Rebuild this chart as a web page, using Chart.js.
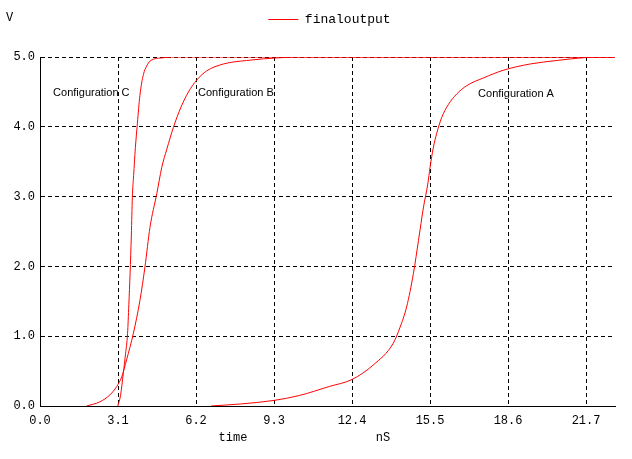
<!DOCTYPE html>
<html>
<head>
<meta charset="utf-8">
<script src="https://cdn.jsdelivr.net/npm/chart.js@4/dist/chart.umd.min.js"></script>
<style>
    html, body { margin: 0; padding: 0; background: #fff; }
    #chart { display: block; }
</style>
</head>
<body>
<canvas id="chart" width="632" height="459"></canvas>
<script>
// Data (time in nS, voltage in V)
const timeC = [3.09, 3.2, 3.31, 3.4, 3.48, 3.53, 3.58, 3.63, 3.67, 3.72, 3.79, 3.87, 3.97, 4.11, 4.24, 4.37, 4.9, 5.5, 22.85];
const voltC = [0, 0.15, 0.47, 0.75, 1.04, 1.45, 1.9, 2.45, 2.99, 3.3, 3.7, 4.05, 4.45, 4.75, 4.87, 4.94, 4.99, 5.0, 5.0];

const timeB = [1.85, 2.38, 2.78, 3.05, 3.25, 3.44, 3.71, 3.97, 4.17, 4.37, 4.64, 4.84, 5.04, 5.3, 5.6, 5.9, 6.23, 6.62, 7.29, 8.21, 9.54, 10.5, 22.85];
const voltB = [0, 0.06, 0.16, 0.28, 0.42, 0.66, 1.04, 1.51, 1.99, 2.56, 3.04, 3.42, 3.68, 3.99, 4.28, 4.5, 4.67, 4.8, 4.9, 4.95, 4.99, 5.0, 5.0];

const timeA = [6.8, 8.0, 9.3, 10.3, 11.5, 12.4, 13.25, 14.04, 14.31, 14.57, 14.84, 15.04, 15.24, 15.41, 15.5, 15.63, 15.76, 15.96, 16.23, 16.56, 16.96, 17.62, 18.41, 19.48, 20.54, 21.6, 22.26, 22.85];
const voltA = [0, 0.03, 0.08, 0.15, 0.28, 0.38, 0.59, 0.9, 1.13, 1.42, 1.9, 2.37, 2.85, 3.18, 3.42, 3.7, 3.9, 4.13, 4.32, 4.47, 4.59, 4.7, 4.81, 4.9, 4.95, 4.99, 5.0, 5.0];

const xTicks = [0, 3.1, 6.2, 9.3, 12.4, 15.5, 18.6, 21.7];
const yTicks = [0, 1, 2, 3, 4, 5];

// Curve annotations (data coordinates of the text's left edge)
const noteText = ['Configuration C', 'Configuration B', 'Configuration A'];
const noteTime = [0.52, 6.28, 17.41];
const noteVolt = [4.49, 4.49, 4.47];

const monoFamily = "'Liberation Mono', 'DejaVu Sans Mono', monospace";
const monoFont = { family: monoFamily, size: 12 };

function toPoints(xs, ys) {
    return xs.map((x, i) => ({ x: x, y: ys[i] }));
}

function series(label, xs, ys) {
    return {
        label: label,
        data: toPoints(xs, ys),
        borderColor: '#ff0000',
        backgroundColor: '#ff0000',
        borderWidth: 1,
        pointRadius: 0,
        cubicInterpolationMode: 'monotone',
        fill: false
    };
}

// Extra texts: axis captions and curve names
const textPlugin = {
    id: 'texts',
    afterDatasetsDraw(chart) {
        const ctx = chart.ctx;
        const x = chart.scales.x;
        const y = chart.scales.y;
        ctx.save();
        ctx.fillStyle = '#000';
        ctx.font = `${monoFont.size}px ${monoFamily}`;
        ctx.textBaseline = 'middle';
        ctx.textAlign = 'left';
        ctx.fillText('V', 6, 18);
        ctx.textAlign = 'center';
        ctx.fillText('time', 233, 438);
        ctx.fillText('nS', 383, 438);

        ctx.font = "11px 'Liberation Sans', Arial, sans-serif";
        ctx.textAlign = 'left';
        noteText.forEach((t, i) => {
            ctx.fillText(t, x.getPixelForValue(noteTime[i]), y.getPixelForValue(noteVolt[i]));
        });
        ctx.restore();
    }
};

// Leave room between the legend and the plot, and nudge it right
const legendGap = {
    id: 'legendGap',
    beforeInit(chart) {
        const fit = chart.legend.fit;
        chart.legend.fit = function () {
            fit.bind(chart.legend)();
            this.height += 21;
        };
    },
    afterLayout(chart) {
        chart.legend.left += 22;
        chart.legend.right += 22;
    }
};

const ctx = document.getElementById('chart').getContext('2d');
const chart = new Chart(ctx, {
    type: 'line',
    data: {
        datasets: [
            series('finaloutput', timeC, voltC),
            series('B', timeB, voltB),
            series('A', timeA, voltA)
        ]
    },
    options: {
        responsive: false,
        animation: false,
        layout: { padding: { top: 3, right: 17, bottom: 0, left: 0 } },
        plugins: {
            legend: {
                display: true,
                position: 'top',
                labels: {
                    filter: item => item.datasetIndex === 0,
                    usePointStyle: true,
                    pointStyle: 'line',
                    pointStyleWidth: 30,
                    boxWidth: 30,
                    color: '#000',
                    padding: 10,
                    font: { family: monoFamily, size: 13 }
                }
            },
            tooltip: { enabled: false }
        },
        scales: {
            x: {
                type: 'linear',
                min: 0,
                max: 22.85,
                afterBuildTicks: s => { s.ticks = xTicks.map(v => ({ value: v })); },
                afterFit: s => { s.height = 53; },
                ticks: {
                    callback: v => Number(v).toFixed(1),
                    color: '#000',
                    font: monoFont,
                    padding: 8,
                    maxRotation: 0,
                    autoSkip: false
                },
                grid: { color: '#000', lineWidth: 1, drawTicks: false },
                border: { display: true, color: '#000', width: 1, dash: [4, 3] }
            },
            y: {
                min: 0,
                max: 5,
                afterBuildTicks: s => { s.ticks = yTicks.map(v => ({ value: v })); },
                afterFit: s => { s.width = 40; },
                ticks: {
                    callback: v => Number(v).toFixed(1),
                    color: '#000',
                    font: monoFont,
                    padding: 5
                },
                grid: { color: '#000', lineWidth: 1, drawTicks: false },
                border: { display: true, color: '#000', width: 1, dash: [4, 3] }
            }
        }
    },
    plugins: [legendGap, textPlugin]
});
</script>
</body>
</html>
